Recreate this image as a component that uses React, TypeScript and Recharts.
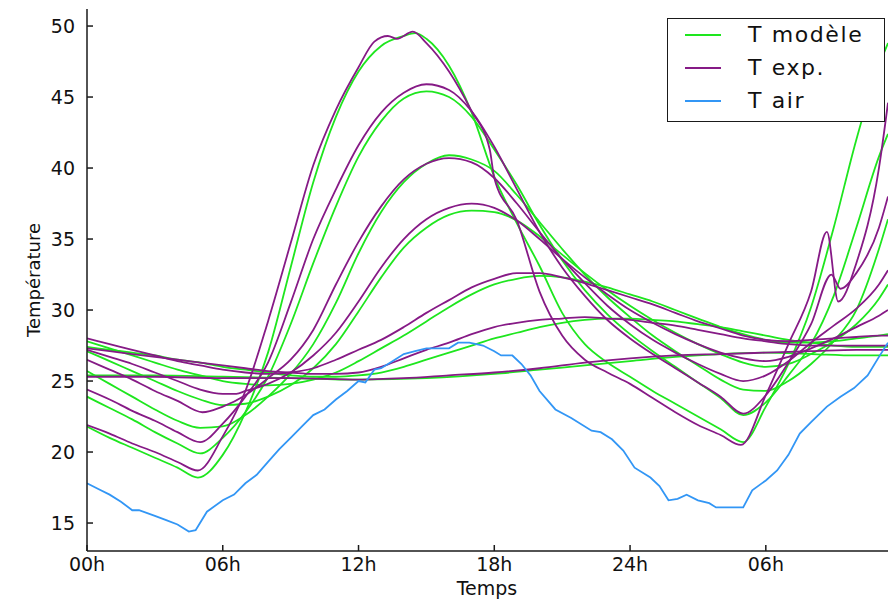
import React from 'react';
import { LineChart, Line, XAxis, YAxis, Legend, Label } from 'recharts';

type Pt = [number, number];

const hourTicks = [0, 6, 12, 18, 24, 30];
const hourLabels = ['00h', '06h', '12h', '18h', '24h', '06h'];
const tempTicks = [15, 20, 25, 30, 35, 40, 45, 50];

const GREEN = '#1ee61e';
const PURPLE = '#861a86';
const BLUE = '#3296f5';

// T modèle (model), layers 1 (surface) .. 7 (deep)
const model1: Pt[] = [[0,21.8],[1,21.0],[2,20.3],[3,19.6],[4,18.9],[4.9,18.2],[6,19.8],[7,22.8],[8,27.0],[9,33.0],[10,39.0],[11,43.6],[12,46.8],[13,48.6],[14,49.3],[14.5,49.5],[15,49.1],[16,47.2],[17,43.9],[18,39.4],[19,36.1],[20,33.1],[21,29.8],[22,27.6],[23,26.3],[24,25.3],[25,24.3],[26,23.4],[27,22.5],[28,21.6],[29,20.7],[30,23.2],[31,26.2],[32,30.2],[33,35.8],[34,42.0],[35,47.2],[35.4,48.8]];
const model2: Pt[] = [[0,23.9],[1,23.1],[2,22.3],[3,21.4],[4,20.6],[5,19.9],[6,21.0],[7,22.8],[8,25.3],[9,29.0],[10,33.3],[11,37.3],[12,40.8],[13,43.3],[14,44.9],[15,45.4],[16,45.0],[17,43.6],[18,41.3],[19,38.8],[20,36.0],[21,33.5],[22,31.4],[23,29.7],[24,28.3],[25,27.1],[26,26.0],[27,24.9],[28,23.8],[29,22.6],[30,23.5],[31,25.4],[32,27.6],[33,31.0],[34,35.8],[35,40.8],[35.4,42.4]];
const model3: Pt[] = [[0,25.7],[1,24.8],[2,23.9],[3,23.0],[4,22.2],[5,21.7],[6,21.8],[7,22.6],[8,23.9],[9,25.5],[10,27.6],[11,30.5],[12,34.0],[13,36.9],[14,39.0],[15,40.3],[16,40.9],[17,40.6],[18,39.8],[19,38.1],[20,36.2],[21,34.3],[22,32.5],[23,30.9],[24,29.5],[25,28.2],[26,27.1],[27,26.1],[28,25.1],[29,24.4],[30,24.3],[31,25.0],[32,26.2],[33,27.8],[34,30.0],[35,34.3],[35.4,36.4]];
const model4: Pt[] = [[0,27.1],[1,26.4],[2,25.7],[3,25.0],[4,24.3],[5,23.7],[6,23.3],[7,23.4],[8,23.9],[9,24.7],[10,25.9],[11,27.6],[12,29.9],[13,32.3],[14,34.4],[15,35.8],[16,36.7],[17,37.0],[18,36.9],[19,36.3],[20,35.2],[21,33.9],[22,32.6],[23,31.4],[24,30.3],[25,29.3],[26,28.4],[27,27.6],[28,26.9],[29,26.3],[30,26.0],[31,26.2],[32,26.9],[33,27.8],[34,29.0],[35,30.8],[35.4,31.8]];
const model5: Pt[] = [[0,27.8],[1,27.3],[2,26.8],[3,26.3],[4,25.8],[5,25.4],[6,25.0],[7,24.8],[8,24.7],[9,24.8],[10,25.1],[11,25.6],[12,26.4],[13,27.3],[14,28.2],[15,29.2],[16,30.2],[17,31.1],[18,31.8],[19,32.2],[20,32.4],[21,32.3],[22,32.0],[23,31.6],[24,31.1],[25,30.6],[26,30.0],[27,29.4],[28,28.8],[29,28.3],[30,27.9],[31,27.7],[32,27.7],[33,27.8],[34,28.0],[35,28.2],[35.4,28.3]];
const model6: Pt[] = [[0,27.4],[1,27.2],[2,27.0],[3,26.8],[4,26.5],[5,26.3],[6,26.0],[7,25.8],[8,25.6],[9,25.4],[10,25.3],[11,25.3],[12,25.4],[13,25.6],[14,26.0],[15,26.5],[16,27.0],[17,27.5],[18,28.0],[19,28.4],[20,28.8],[21,29.1],[22,29.3],[23,29.4],[24,29.4],[25,29.3],[26,29.2],[27,29.0],[28,28.8],[29,28.5],[30,28.2],[31,27.9],[32,27.7],[33,27.5],[34,27.4],[35.4,27.4]];
const model7: Pt[] = [[0,25.4],[3,25.4],[6,25.3],[9,25.2],[12,25.1],[15,25.2],[18,25.5],[20,25.8],[22,26.1],[24,26.4],[26,26.7],[28,26.9],[30,27.0],[32,26.9],[34,26.8],[35.4,26.8]];

// T exp. (measured)
const exp1: Pt[] = [[0,21.9],[1,21.3],[2,20.6],[3,20.0],[4,19.3],[4.9,18.7],[6,21.1],[7,24.3],[8,29.2],[9,34.7],[10,40.2],[11,44.1],[12,47.1],[12.7,48.9],[13.3,49.3],[13.7,49.1],[14.4,49.6],[15,48.8],[16,46.8],[17,44.0],[17.8,41.3],[18,39.3],[19,36.3],[20,31.3],[21,28.2],[22,26.5],[23,25.6],[24,24.8],[25,23.8],[26,22.8],[27,21.9],[28,21.2],[28.9,20.5],[30,24.0],[31,27.6],[32,31.3],[32.7,35.5],[33.2,30.6],[34,33.3],[35,40.0],[35.4,44.6]];
const exp2: Pt[] = [[0,24.4],[1,23.7],[2,22.9],[3,22.2],[4,21.4],[5,20.7],[6,22.0],[7,23.9],[8,26.3],[9,30.5],[10,35.0],[11,38.5],[12,41.6],[13,43.9],[14,45.3],[15,45.9],[16,45.5],[17,44.0],[18,41.5],[19,38.5],[20,35.5],[21,33.0],[22,31.0],[23,29.3],[24,28.0],[25,26.9],[26,25.9],[27,24.9],[28,23.9],[29,22.7],[30,24.0],[31,26.3],[32,29.0],[32.9,32.5],[33.3,31.5],[34,32.6],[35,35.8],[35.4,38.0]];
const exp3: Pt[] = [[0,26.5],[1,25.8],[2,25.1],[3,24.3],[4,23.6],[5.1,22.8],[6,23.2],[7,24.0],[8,25.2],[9,26.5],[10,28.6],[11,31.8],[12,34.8],[13,37.3],[14,39.2],[15,40.3],[16,40.7],[17,40.4],[18,39.3],[19,37.5],[20,35.5],[21,33.6],[22,31.9],[23,30.3],[24,29.0],[25,27.9],[26,27.0],[27,26.2],[28,25.5],[29,25.0],[30,25.4],[31,26.4],[32,27.7],[33,28.9],[34,30.1],[35,31.8],[35.4,32.8]];
const exp4: Pt[] = [[0,27.2],[1,26.7],[2,26.2],[3,25.6],[4,25.0],[5,24.4],[6,24.1],[6.6,24.1],[7,24.3],[8,24.8],[9,25.6],[10,26.8],[11,28.4],[12,30.6],[13,33.0],[14,35.0],[15,36.4],[16,37.2],[17,37.5],[18,37.2],[19,36.3],[20,35.0],[21,33.6],[22,32.3],[23,31.1],[24,30.0],[25,29.1],[26,28.3],[27,27.6],[28,27.0],[29,26.6],[30,26.4],[31,26.7],[32,27.3],[33,28.0],[34,28.8],[35,29.6],[35.4,30.0]];
const exp5: Pt[] = [[0,28.0],[1,27.6],[2,27.2],[3,26.8],[4,26.4],[5,26.1],[6,25.8],[7,25.6],[8,25.5],[9,25.6],[10,25.9],[11,26.5],[12,27.2],[13,27.9],[14,28.8],[15,29.8],[16,30.7],[17,31.6],[18,32.2],[19,32.6],[20,32.6],[21,32.3],[22,31.9],[23,31.4],[24,30.9],[25,30.4],[26,29.8],[27,29.2],[28,28.7],[29,28.2],[30,27.9],[31,27.8],[32,27.9],[33,28.0],[34,28.1],[35,28.2],[35.4,28.2]];
const exp6: Pt[] = [[0,27.3],[1,27.1],[2,26.9],[3,26.7],[4,26.5],[5,26.3],[6,26.1],[7,25.9],[8,25.7],[9,25.6],[10,25.5],[11,25.5],[12,25.6],[13,26.0],[14,26.6],[15,27.2],[16,27.7],[17,28.3],[18,28.8],[19,29.1],[20,29.3],[21,29.4],[22,29.5],[23,29.4],[24,29.3],[25,29.1],[26,28.9],[27,28.6],[28,28.3],[29,28.0],[30,27.8],[31,27.6],[32,27.5],[34,27.5],[35.4,27.5]];
const exp7: Pt[] = [[0,25.3],[3,25.3],[6,25.2],[9,25.2],[12,25.1],[14,25.2],[16,25.4],[18,25.6],[20,25.9],[22,26.3],[24,26.6],[26,26.8],[28,26.9],[30,27.0],[32,27.1],[34,27.2],[35.4,27.2]];

// T air
const air: Pt[] = [[0,17.8],[0.5,17.4],[1,17.0],[1.5,16.5],[2,15.9],[2.3,15.9],[3,15.5],[3.5,15.2],[4,14.9],[4.5,14.4],[4.8,14.5],[5.3,15.8],[6,16.6],[6.5,17.0],[7,17.8],[7.5,18.4],[8,19.3],[8.5,20.2],[9,21.0],[9.5,21.8],[10,22.6],[10.5,23.0],[11,23.7],[11.5,24.3],[12,25.0],[12.3,24.9],[12.7,25.8],[13,25.9],[13.5,26.4],[14,26.9],[14.5,27.1],[15,27.3],[15.5,27.3],[16,27.3],[16.4,27.7],[16.9,27.7],[17.5,27.5],[18,27.1],[18.3,26.8],[18.8,26.8],[19.2,26.2],[19.6,25.4],[20,24.3],[20.7,23.0],[21.4,22.4],[22.3,21.5],[22.7,21.4],[23.2,20.9],[23.7,20.1],[24.2,18.9],[24.9,18.2],[25.3,17.6],[25.7,16.6],[26.1,16.7],[26.5,17.0],[27,16.6],[27.5,16.4],[27.8,16.1],[28.3,16.1],[29,16.1],[29.4,17.3],[30,18.0],[30.5,18.7],[31,19.8],[31.5,21.3],[32,22.1],[32.7,23.2],[33.3,23.9],[33.9,24.5],[34.5,25.4],[35,26.7],[35.4,27.7]];

const modelSeries = [model1, model2, model3, model4, model5, model6, model7];
const expSeries = [exp1, exp2, exp3, exp4, exp5, exp6, exp7];

const legendItems = [
  { label: 'T modèle', color: GREEN },
  { label: 'T exp.', color: PURPLE },
  { label: 'T air', color: BLUE },
];

const toRows = (pts: Pt[]) => pts.map(([t, v]) => ({ t, v }));

const FONT = '"DejaVu Sans", sans-serif';
const AXIS_COLOR = '#1a1a1a';

const renderLegend = () => (
  <div
    style={{
      position: 'relative',
      width: 218,
      height: 104,
      boxSizing: 'border-box',
      border: `1.5px solid ${AXIS_COLOR}`,
      background: '#fff',
      fontFamily: FONT,
    }}
  >
    {legendItems.map((it, i) => (
      <div key={it.label} style={{ position: 'absolute', left: 0, top: 16 + i * 33 - 14, height: 28, width: '100%' }}>
        <div style={{ position: 'absolute', left: 17, top: 13, width: 36, height: 2, background: it.color }} />
        <div
          style={{
            position: 'absolute',
            left: 80,
            top: 0,
            lineHeight: '28px',
            fontSize: 22,
            letterSpacing: 1.6,
            color: '#111',
            whiteSpace: 'nowrap',
          }}
        >
          {it.label}
        </div>
      </div>
    ))}
  </div>
);

export default function App() {
  return (
    <LineChart
      width={882}
      height={591}
      margin={{ top: 1, right: 2, bottom: 0, left: 0 }}
      style={{ fontFamily: FONT }}
    >
      <XAxis
        xAxisId="b"
        dataKey="t"
        type="number"
        domain={[0, 35.4]}
        allowDataOverflow
        ticks={hourTicks}
        tickFormatter={(v: number) => hourLabels[hourTicks.indexOf(v)] ?? ''}
        height={48}
        tickSize={-6}
        tickMargin={13}
        stroke={AXIS_COLOR}
        strokeWidth={1.5}
        tick={{ fontSize: 19, fill: '#111', fontFamily: FONT }}
        interval={0}
      >
        <Label
          content={() => (
            <text x={479} y={587} textAnchor="middle" fontSize={19} fill="#111" fontFamily={FONT}>
              Temps
            </text>
          )}
        />
      </XAxis>
      <XAxis
        xAxisId="t"
        orientation="top"
        dataKey="t"
        type="number"
        domain={[0, 35.4]}
        allowDataOverflow
        ticks={hourTicks}
        tickFormatter={() => ''}
        height={0}
        tickSize={-6}
        stroke={AXIS_COLOR}
        strokeWidth={1.5}
        interval={0}
      />
      <YAxis
        yAxisId="l"
        type="number"
        domain={[13.03, 51.2]}
        allowDataOverflow
        ticks={tempTicks}
        width={79}
        tickSize={-6}
        tickMargin={18}
        stroke={AXIS_COLOR}
        strokeWidth={1.5}
        tick={{ fontSize: 19, fill: '#111', fontFamily: FONT }}
        interval={0}
      >
        <Label
          content={() => (
            <text
              x={25}
              y={272}
              transform="rotate(-90 25 272)"
              textAnchor="middle"
              dominantBaseline="central"
              fontSize={18}
              fill="#111"
              fontFamily={FONT}
            >
              Température
            </text>
          )}
        />
      </YAxis>
      <YAxis
        yAxisId="r"
        orientation="right"
        type="number"
        domain={[13.03, 51.2]}
        allowDataOverflow
        ticks={tempTicks}
        width={0}
        tickSize={-6}
        tickFormatter={() => ''}
        stroke={AXIS_COLOR}
        strokeWidth={1.5}
        interval={0}
      />
      <Legend
        layout="horizontal"
        verticalAlign="middle"
        align="center"
        content={renderLegend}
        wrapperStyle={{ left: 659, top: 10, width: 218, height: 104 }}
      />
      {modelSeries.map((s, i) => (
        <Line
          key={`m${i}`}
          data={toRows(s)}
          dataKey="v"
          name="T modèle"
          xAxisId="b"
          yAxisId="l"
          type="monotone"
          stroke={GREEN}
          strokeWidth={1.8}
          dot={false}
          activeDot={false}
          isAnimationActive={false}
        />
      ))}
      {expSeries.map((s, i) => (
        <Line
          key={`e${i}`}
          data={toRows(s)}
          dataKey="v"
          name="T exp."
          xAxisId="b"
          yAxisId="l"
          type="monotone"
          stroke={PURPLE}
          strokeWidth={1.8}
          dot={false}
          activeDot={false}
          isAnimationActive={false}
        />
      ))}
      <Line
        data={toRows(air)}
        dataKey="v"
        name="T air"
        xAxisId="b"
        yAxisId="l"
        type="linear"
        stroke={BLUE}
        strokeWidth={1.8}
        dot={false}
        activeDot={false}
        isAnimationActive={false}
      />
    </LineChart>
  );
}
